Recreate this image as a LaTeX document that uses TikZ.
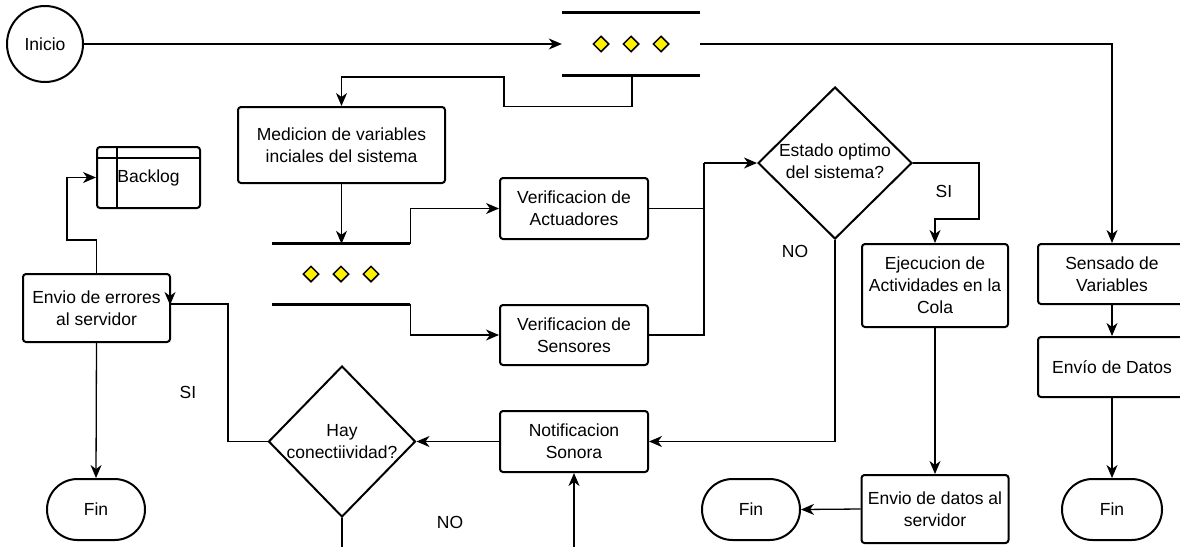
\documentclass[tikz,border=0pt]{standalone}
\usepackage{fontspec}
\setmainfont{Liberation Sans}
\usetikzlibrary{shapes.geometric,shapes.misc,arrows.meta,calc}
\newcommand\dfont{\fontsize{17.5}{22}\selectfont}
\begin{document}
\begin{tikzpicture}[x=1pt,y=-1pt,
  txt/.style={font=\dfont, align=center, inner sep=0pt},
  box/.style={draw, line width=2pt, rounded corners=3pt, align=center, inner sep=0pt, font=\dfont},
  dia/.style={diamond, draw, line width=2pt, inner sep=0pt},
  term/.style={rounded rectangle, draw, line width=2pt, inner sep=0pt, font=\dfont},
  ydia/.style={diamond, draw, fill=yellow, line width=1.5pt, minimum size=16pt, inner sep=0pt},
  bar/.style={line width=2.8pt},
  ln/.style={line width=1.3pt},
  arr/.style={line width=1.3pt, -{Stealth[length=13pt,width=11pt,inset=4pt]}},
  par/.style={minimum width=138pt, inner sep=0pt}
]
\useasboundingbox (0,0) rectangle (1180,547);
\fill[white] (0,0) rectangle (1180,547);

% nodes
\node[circle, draw, line width=2pt, minimum size=76pt, inner sep=0pt, font=\dfont] (inicio) at (45,44) {Inicio};
\node[par, minimum height=62pt] (par1) at (631,44) {};
\node[box, minimum width=207pt, minimum height=76pt] (medicion) at (341.5,145) {Medicion de variables\\inciales del sistema};
\node[par, minimum height=60pt] (par2) at (341,274) {};
\node[box, minimum width=148pt, minimum height=61pt] (act) at (574,208.5) {Verificacion de\\Actuadores};
\node[box, minimum width=148pt, minimum height=60pt] (sen) at (574,335) {Verificacion de\\Sensores};
\node[dia, minimum width=154pt, minimum height=152pt] (estado) at (835,163) {};
\node[txt] at (835,161) {Estado optimo\\del sistema?};
\node[box, minimum width=146pt, minimum height=83pt] (ejec) at (935,285.5) {Ejecucion de\\Actividades en la\\Cola};
\node[box, minimum width=147pt, minimum height=68pt] (envd) at (935,509) {Envio de datos al\\servidor};
\node[term, minimum width=98pt, minimum height=61pt] (fin2) at (751,509.5) {Fin};
\node[box, minimum width=148pt, minimum height=61pt] (notif) at (574,441.5) {Notificacion\\Sonora};
\node[dia, minimum width=147pt, minimum height=151pt] (hay) at (342,441.5) {};
\node[txt] at (342,441.5) {Hay\\conectiividad?};
\node[box, minimum width=147pt, minimum height=68pt] (enve) at (96.5,308) {Envio de errores\\al servidor};
\node[box, minimum width=103pt, minimum height=61pt] (backlog) at (148.5,177.5) {Backlog};
\node[term, minimum width=98pt, minimum height=61pt] (fin1) at (96,509.5) {Fin};
\node[box, minimum width=148pt, minimum height=60pt] (sensado) at (1112,274) {Sensado de\\Variables};
\node[box, minimum width=148pt, minimum height=60pt] (envdat) at (1112,367) {Envío de Datos};
\node[term, minimum width=100pt, minimum height=61pt] (fin3) at (1112,509.5) {Fin};

% parallel bars
\draw[bar] (par1.north west) -- (par1.north east);
\draw[bar] (par1.south west) -- (par1.south east);
\node[ydia] at (601,44) {};
\node[ydia] at (631,44) {};
\node[ydia] at (661,44) {};
\draw[bar] (par2.north west) -- (par2.north east);
\draw[bar] (par2.south west) -- (par2.south east);
\node[ydia] at (311,274) {};
\node[ydia] at (341,274) {};
\node[ydia] at (371,274) {};

% backlog inner lines
\draw[line width=2pt] ($(backlog.north west)+(0,12)$) -- ($(backlog.north east)+(0,12)$);
\draw[line width=2pt] ($(backlog.north west)+(21,0)$) -- ($(backlog.south west)+(21,0)$);

% labels
\node[txt] at (944,191) {SI};
\node[txt] at (795,251) {NO};
\node[txt] at (188,392) {SI};
\node[txt] at (450,522) {NO};

% coordinates
\coordinate (j1) at (704,163);
\coordinate (nb) at (574,547);
\coordinate (hb) at (342,547);
\coordinate (ec) at (170,305);

% connectors
\draw[arr] (inicio) -- (par1.west);
\draw[arr] (par1.east) -| (sensado.north);
\draw[arr] ($(par1.south)+(1,0)$) -- ++(0,31) -| (504,77) -| (medicion.north);
\draw[arr] (medicion.south) -- (medicion.south |- par2.north);
\draw[arr] (par2.north east) |- (act.west);
\draw[arr] (par2.south east) |- (sen.west);
\draw[ln] (act.east) -| (j1);
\draw[ln] (sen.east) -| (j1);
\draw[arr] (j1) -- (estado.west);
\draw[arr] (estado.east) -| (979,219) -| (ejec.north);
\draw[arr] (ejec.south) -- (envd.north);
\draw[arr] (envd.west) -- (fin2.east);
\draw[arr] (estado.south) |- (notif.east);
\draw[arr] (notif.west) -- (hay.east);
\draw[arr] (nb) -- (notif.south);
\draw[ln] (hay.south) -- (hb);
\draw[ln] (hay.west) -| (228,304) -- (170,304);
\draw[arr] ($(ec)+(0,-2)$) -- (ec);
\draw[arr] (enve.north) -- ++(0,-33) -| (67,177.5) -- (backlog.west);
\draw[arr] (enve.south) -- (fin1.north);
\draw[arr] (sensado.south) -- (envdat.north);
\draw[arr] (envdat.south) -- (fin3.north);
\end{tikzpicture}
\end{document}
